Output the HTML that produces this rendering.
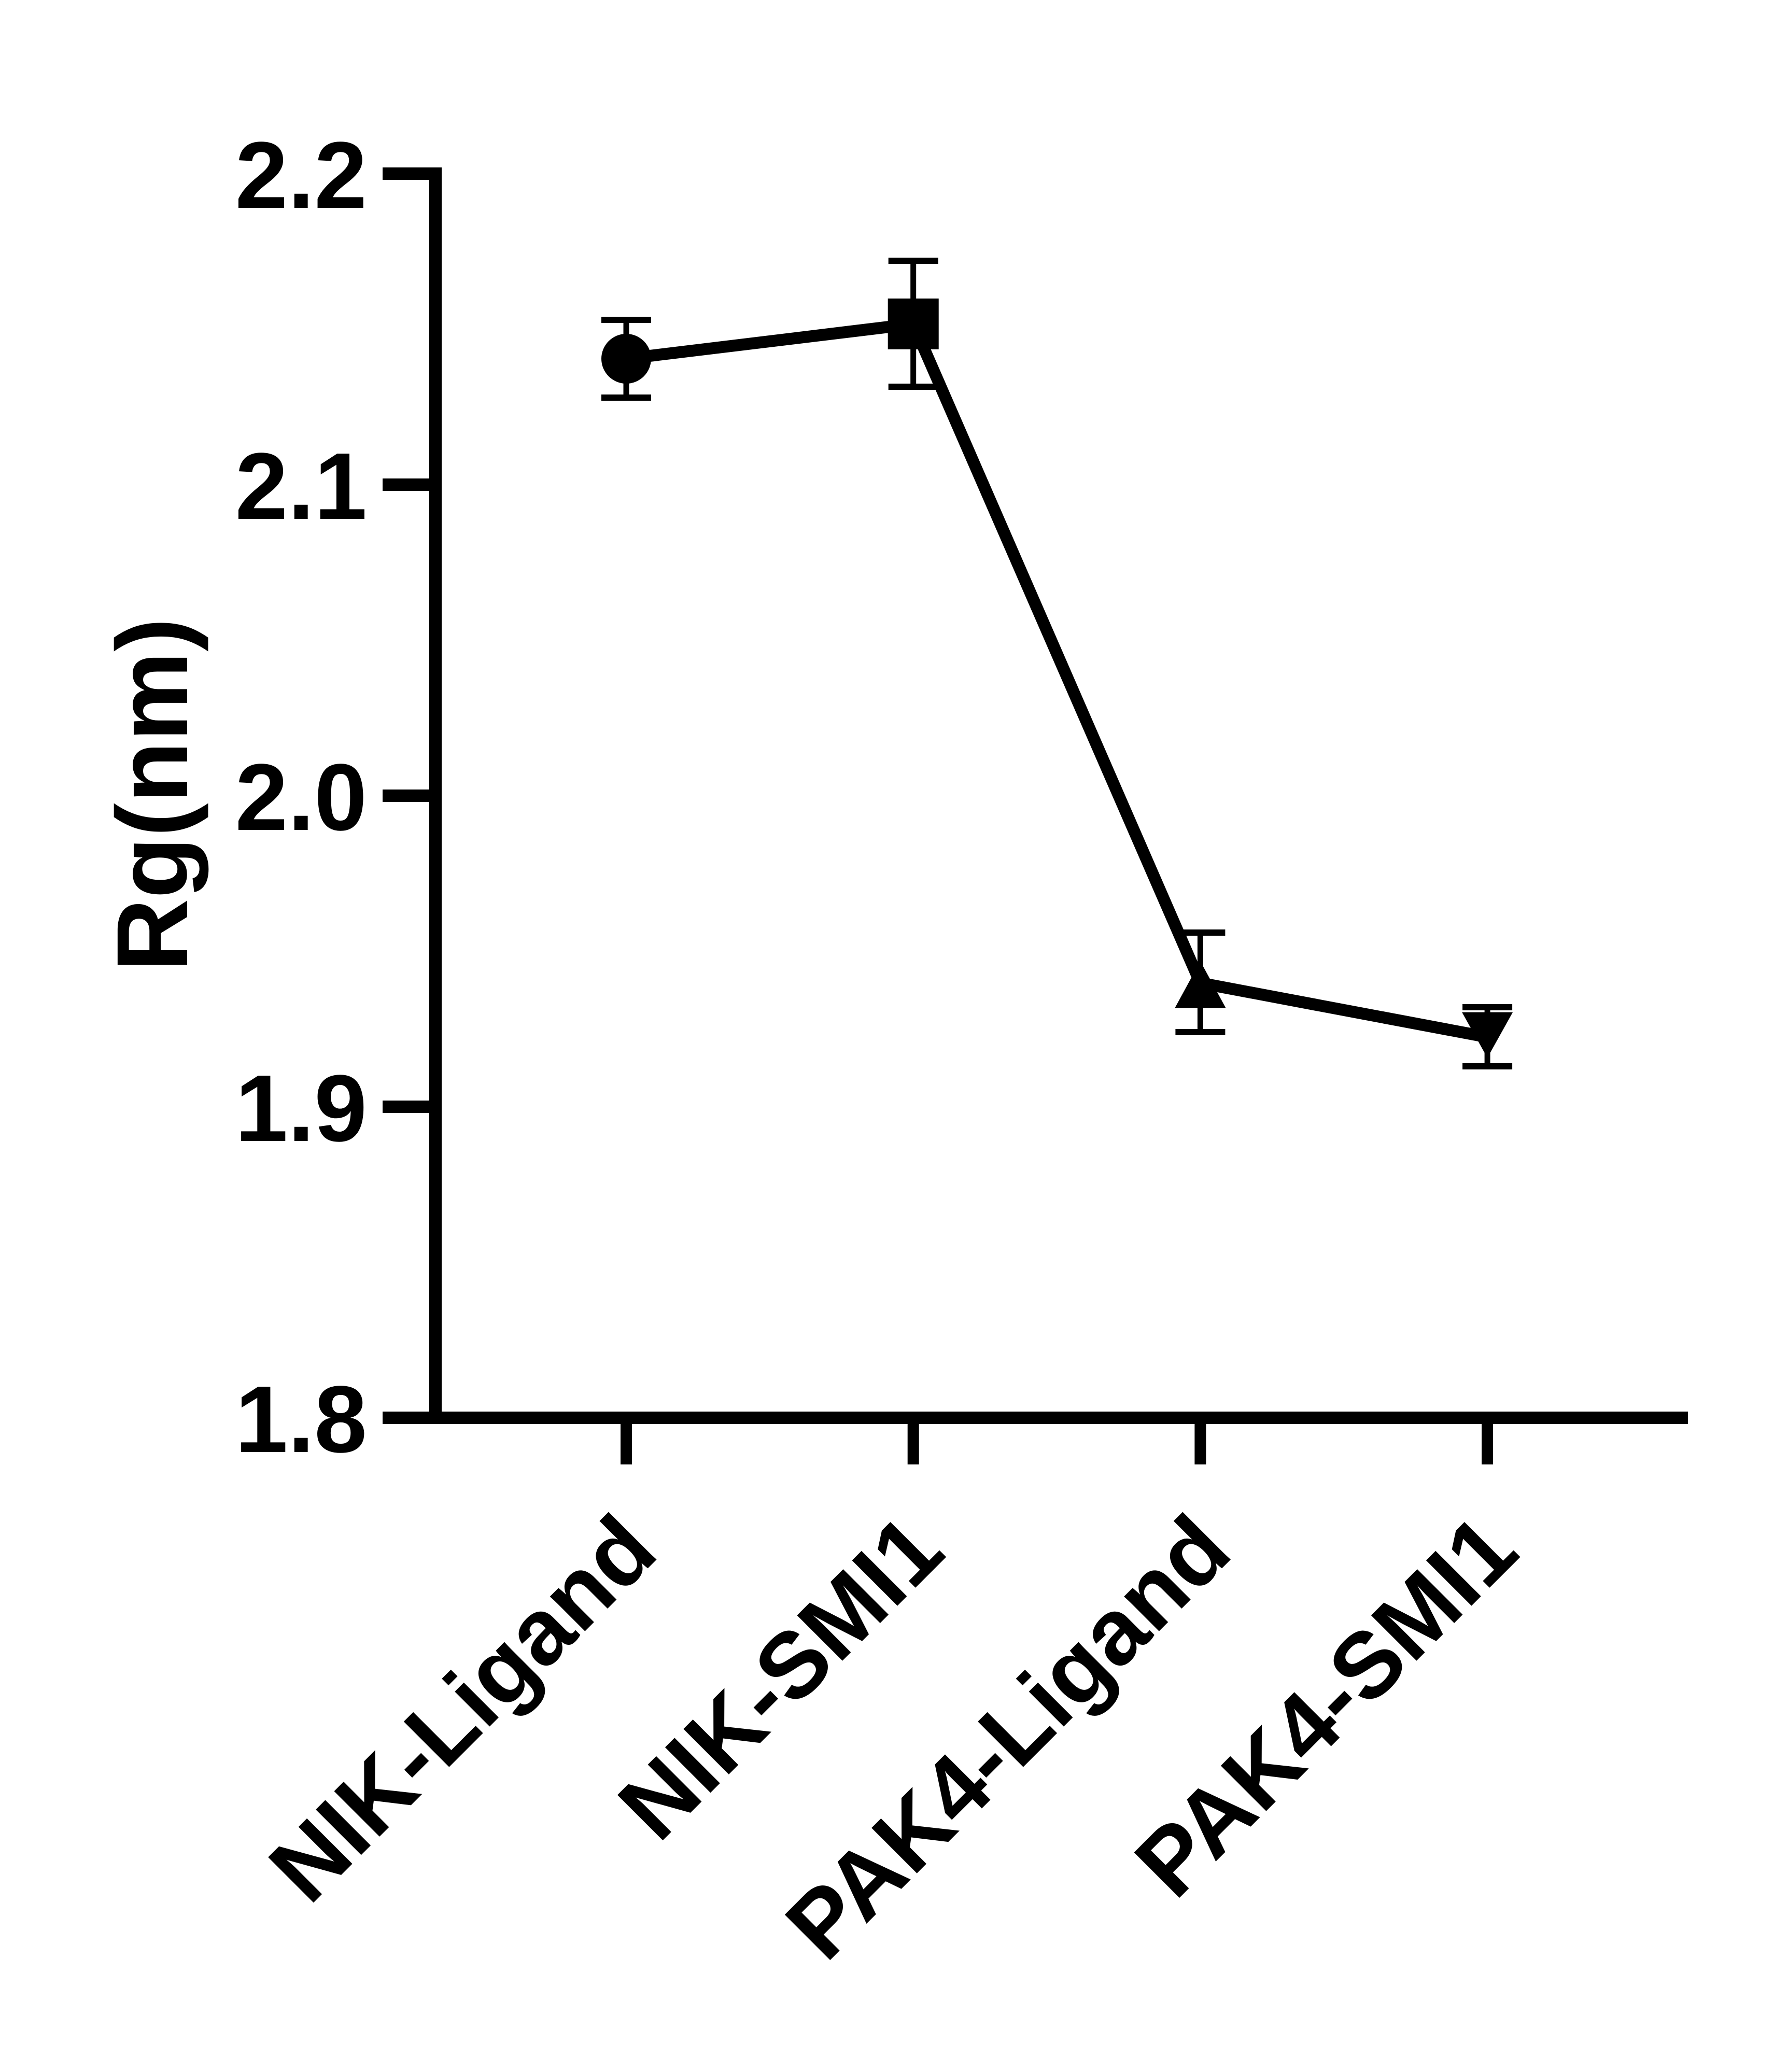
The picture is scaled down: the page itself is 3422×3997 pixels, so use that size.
<!DOCTYPE html>
<html><head><meta charset="utf-8"><style>
html,body{margin:0;padding:0;background:#fff;}
svg{display:block;}
text{font-family:"Liberation Sans",Arial,sans-serif;font-weight:bold;fill:#000;}
</style></head>
<body>
<svg id="chart" width="3422" height="3997" viewBox="0 0 3422 3997" xmlns="http://www.w3.org/2000/svg">
<g id="axes"></g>
<g id="marks"></g>
<text x="0" y="0" font-size="195" text-anchor="middle" transform="translate(361,1533) rotate(-90)">Rg(nm)</text>
</svg>
<script>
const categories = ["NIK-Ligand","NIK-SMI1","PAK4-Ligand","PAK4-SMI1"];
const means = [2.1405, 2.1517, 1.9398, 1.9224];
const errUpper = [2.154, 2.173, 1.957, 1.933];
const errLower = [2.127, 2.1305, 1.923, 1.912];
const yTicks = [1.8, 1.9, 2.0, 2.1, 2.2];
const yTickLabels = ["1.8","1.9","2.0","2.1","2.2"];
const markers = ["circle","square","triangle","triangle-down"];

const NS = "http://www.w3.org/2000/svg";
const yMin = 1.8, yMax = 2.2, yTop = 335, yBot = 2735;
function yScale(v){ return yBot - (v - yMin) / (yMax - yMin) * (yBot - yTop); }
const x0 = 1208, step = 553.7;
function xScale(i){ return x0 + i * step; }
function mk(tag, attrs, parent){ const e = document.createElementNS(NS, tag); for (const k in attrs) e.setAttribute(k, attrs[k]); parent.appendChild(e); return e; }

const axes = document.getElementById('axes');
const marks = document.getElementById('marks');
const axisX = 840;

const yAxis = mk('line', {x1:axisX, y1:yTop-12, x2:axisX, y2:yBot+12, stroke:'#000','stroke-width':24}, axes);


const xAxis = mk('line', {x1:axisX-12, y1:yBot, x2:3256, y2:yBot, stroke:'#000','stroke-width':24}, axes);



yTicks.forEach((v, i) => {
  const y = yScale(v);
  const t = mk('line', {x1:738, y1:y, x2:axisX, y2:y, stroke:'#000','stroke-width':24}, axes);
  
  
  const lb = mk('text', {x:708, y:y+66, 'font-size':183, 'text-anchor':'end'}, axes);
  lb.textContent = yTickLabels[i];
  
  
});

categories.forEach((c, i) => {
  const x = xScale(i);
  const t = mk('line', {x1:x, y1:yBot, x2:x, y2:yBot+90, stroke:'#000','stroke-width':22}, axes);
  
  
  const lb = mk('text', {x:0, y:0, 'font-size':180, 'text-anchor':'end', transform:'translate(' + (x+67) + ',3000) rotate(-45)'}, axes);
  lb.textContent = c;
  
  
});

const pts = means.map((v, i) => xScale(i) + ',' + yScale(v)).join(' ');
const line = mk('polyline', {points:pts, fill:'none', stroke:'#000', 'stroke-width':23, 'stroke-linejoin':'miter'}, marks);



means.forEach((v, i) => {
  const x = xScale(i), y = yScale(v);
  const yu = yScale(errUpper[i]), yl = yScale(errLower[i]);
  const g = mk('g', {}, marks);
  
  
  mk('line', {x1:x, y1:yu, x2:x, y2:yl, stroke:'#000','stroke-width':11}, g);
  mk('line', {x1:x-48, y1:yu+6, x2:x+48, y2:yu+6, stroke:'#000','stroke-width':12}, g);
  mk('line', {x1:x-48, y1:yl-6, x2:x+48, y2:yl-6, stroke:'#000','stroke-width':12}, g);
  let m;
  const kind = markers[i];
  if (kind === 'circle') m = mk('circle', {cx:x, cy:y, r:48, fill:'#000'}, marks);
  else if (kind === 'square') m = mk('rect', {x:x-49, y:y-49, width:98, height:98, fill:'#000'}, marks);
  else if (kind === 'triangle') m = mk('polygon', {points:(x)+','+(y-42)+' '+(x-49)+','+(y+48)+' '+(x+49)+','+(y+48), fill:'#000'}, marks);
  else m = mk('polygon', {points:(x-49)+','+(y-48)+' '+(x+49)+','+(y-48)+' '+(x)+','+(y+40), fill:'#000'}, marks);
  
  
});
</script>
</body></html>
